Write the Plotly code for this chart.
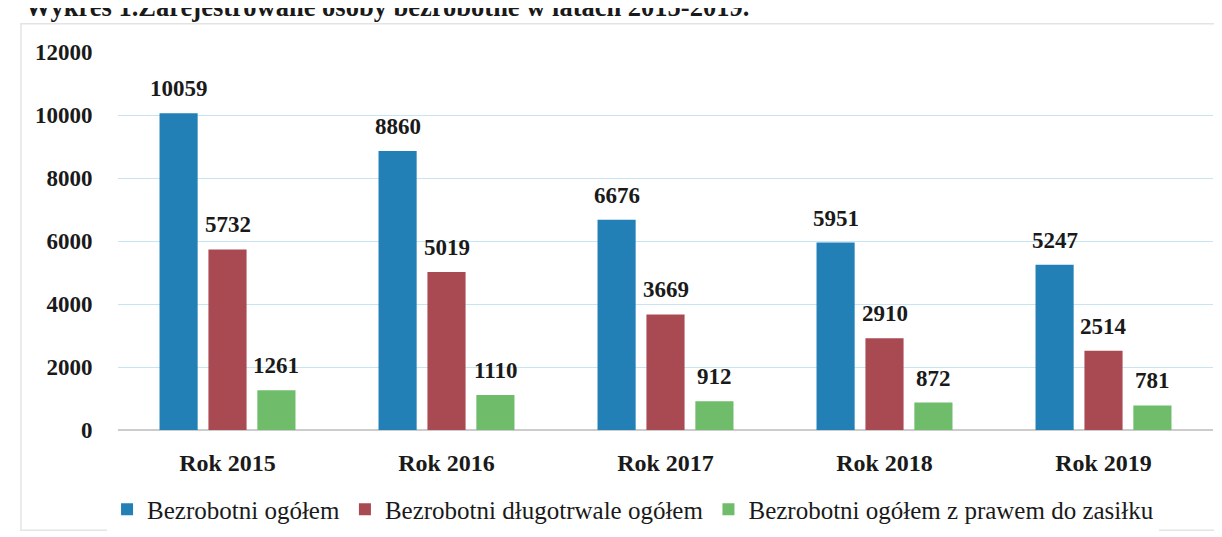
import plotly.graph_objects as go

categories = ["Rok 2015", "Rok 2016", "Rok 2017", "Rok 2018", "Rok 2019"]
ogolem = [10059, 8860, 6676, 5951, 5247]
dlugotrwale = [5732, 5019, 3669, 2910, 2514]
z_prawem = [1261, 1110, 912, 872, 781]
series_names = ["Bezrobotni ogółem", "Bezrobotni długotrwale ogółem",
                "Bezrobotni ogółem z prawem do zasiłku"]
colors = ["#2280b6", "#a94a53", "#6fbd6b"]
y_ticks = [0, 2000, 4000, 6000, 8000, 10000, 12000]
title_text = "Wykres 1.Zarejestrowane osoby bezrobotne w latach 2015-2019."

FONT = "Liberation Serif, Times New Roman, serif"
W, H = 1222, 537
ML, MR, MT, MB = 110, 17, 44, 105
PH = H - MT - MB

fig = go.Figure()
series = [ogolem, dlugotrwale, z_prawem]
for name, vals, col in zip(series_names, series, colors):
    fig.add_trace(go.Bar(x=categories, y=vals, name=name, marker_color=col,
                         marker_line_width=0))

# value labels above bars
plot_w = W - ML - MR
cat_w = plot_w / len(categories)
bargap = 0.33
slot = cat_w * (1 - bargap) / 3
for i, vals in enumerate(series):
    for c, v in zip(categories, vals):
        fig.add_annotation(x=c, y=v, xref="x", yref="y", text=str(v),
                           showarrow=False, yanchor="bottom", yshift=10,
                           xshift=(i - 1) * slot,
                           font=dict(family=FONT, size=23, color="#1a1a1a",
                                     weight="bold"))

# partially visible title at the very top (cut by the page edge, as in the source)
fig.add_annotation(text=title_text, xref="paper", yref="paper",
                   x=-(ML - 15) / plot_w, y=1 + (MT - 15) / PH,
                   xanchor="left", yanchor="bottom", showarrow=False,
                   font=dict(family=FONT, size=26.5, color="#1a1a1a",
                             weight="bold"))

# light frame around the chart
fig.add_shape(type="rect", xref="paper", yref="paper",
              x0=-(ML - 13) / plot_w, x1=1 + (MR + 30) / plot_w,
              y0=-(MB - 2) / PH, y1=1 + (MT - 15) / PH,
              line=dict(color="#e4e4e4", width=1.5), layer="below")

fig.update_layout(
    width=W, height=H,
    margin=dict(l=ML, r=MR, t=MT, b=MB),
    paper_bgcolor="white", plot_bgcolor="white",
    barmode="group", bargap=bargap, bargroupgap=0.22,
    font=dict(family=FONT, color="#1a1a1a"),
    showlegend=True,
    legend=dict(orientation="h", x=-0.01, xanchor="left",
                y=-(490 - 432) / PH, yanchor="top",
                font=dict(family=FONT, size=25, color="#1a1a1a"),
                itemwidth=30, traceorder="normal"),
    xaxis=dict(showgrid=False, showline=False, zeroline=False,
               ticks="outside", ticklen=11, tickcolor="rgba(0,0,0,0)",
               tickfont=dict(family=FONT, size=24, color="#1a1a1a",
                             weight="bold")),
    yaxis=dict(range=[0, 12000], tickvals=y_ticks, tickformat="d",
               showgrid=True, gridcolor="#c6e4f1", gridwidth=1,
               zeroline=True, zerolinecolor="#cccccc", zerolinewidth=1.5,
               ticks="outside", ticklen=20, tickcolor="rgba(0,0,0,0)",
               tickfont=dict(family=FONT, size=23, color="#1a1a1a",
                             weight="bold")),
)

fig.write_html("out.html")
